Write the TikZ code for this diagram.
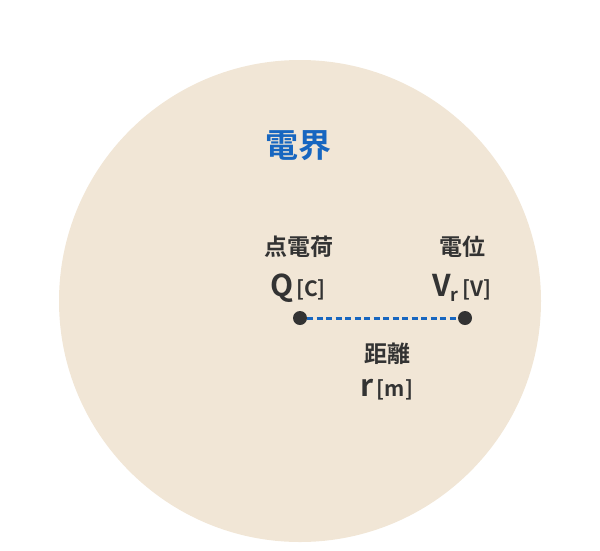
\documentclass[tikz,border=0pt]{standalone}
\usepackage{fontspec}
\setmainfont{Noto Sans CJK JP}[BoldFont={Noto Sans CJK JP Bold}]
\usetikzlibrary{positioning}

\definecolor{sand}{HTML}{F1E6D6}
\definecolor{fieldblue}{HTML}{1766C0}
\definecolor{ink}{HTML}{333333}

\begin{document}
\begin{tikzpicture}[x=1pt,y=-1pt,
  charge/.style={circle,fill=ink,inner sep=0pt,minimum size=14pt},
  word/.style={text=ink,inner sep=0pt,font=\bfseries\fontsize{23}{27}\selectfont},
  unit/.style={text=ink,inner sep=0pt,anchor=base,font=\bfseries\fontsize{21}{25}\selectfont}]
  \useasboundingbox (0,0) rectangle (600,550);
  \fill[sand] (300,301) circle (241);
  \node[text=fieldblue,inner sep=0pt,font=\bfseries\fontsize{33}{37}\selectfont] (field) at (298,146) {電界};
  \node[charge] (Q) at (300,318) {};
  \node[charge] (V) at (465,318) {};
  \draw[fieldblue,line width=3pt,dash pattern=on 6pt off 3.5pt] (Q) -- (V);
  \node[word] (Qname) at (299,247) {点電荷};
  \node[unit] (Qlbl) at (298,296) {{\fontsize{30}{30}\selectfont Q}\hspace{3pt}[C]};
  \node[word] (Vname) at (462,247) {電位};
  \node[unit] (Vlbl) at (462,296) {{\fontsize{30}{30}\selectfont V}\raisebox{-5pt}{\fontsize{18}{18}\selectfont r}\hspace{4pt}[V]};
  \node[word] (rname) at (387,354) {距離};
  \node[unit] (rlbl) at (387,396) {{\fontsize{30}{30}\selectfont r}\hspace{3pt}[m]};
\end{tikzpicture}
\end{document}
